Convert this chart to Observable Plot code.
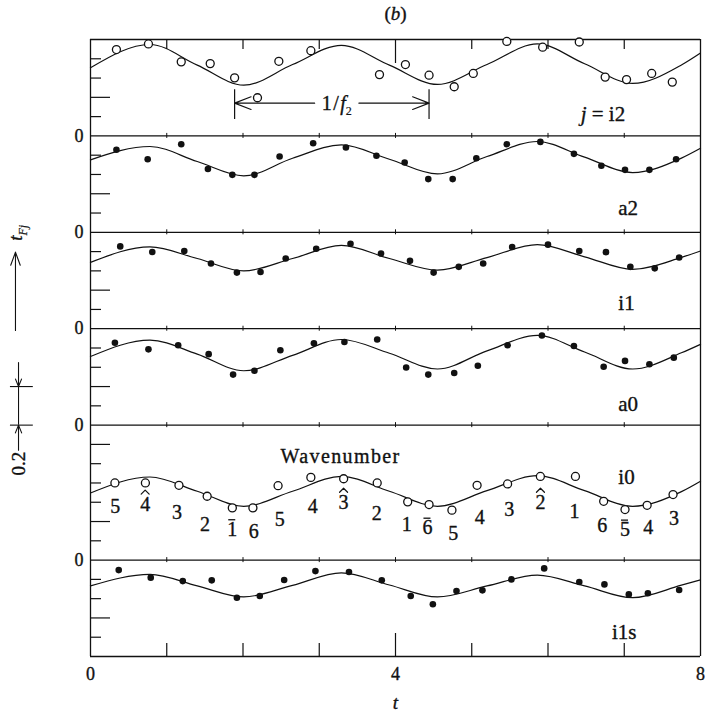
<!DOCTYPE html>
<html><head><meta charset="utf-8">
<script src="https://cdn.jsdelivr.net/npm/d3@7"></script>
<script src="https://cdn.jsdelivr.net/npm/@observablehq/plot@0.6"></script>
<style>
html,body{margin:0;padding:0;background:#fff}
#chart svg{display:block}
</style>
</head><body><div id="chart"></div>
<script>
// ---------------- data ----------------
const panelNames = ["i2", "a2", "i1", "a0", "i0", "i1s"];
const panelSpans = [0.5, 0.5, 0.5, 0.5, 0.7, 0.5];

// fitted curve samples (t, value within panel)
const curveT   = [0, 0.78, 1.40, 2.01, 2.65, 3.29, 3.92, 4.55, 5.20, 5.86, 6.48, 7.11, 7.75, 8];
const curveI2  = [0.353, 0.474, 0.367, 0.263, 0.370, 0.470, 0.367, 0.267, 0.370, 0.477, 0.374, 0.272, 0.368, 0.430];
const curveA2  = [0.376, 0.445, 0.367, 0.293, 0.384, 0.453, 0.379, 0.303, 0.393, 0.471, 0.390, 0.310, 0.385, 0.436];
const curveI1  = [0.344, 0.424, 0.364, 0.300, 0.364, 0.432, 0.364, 0.304, 0.369, 0.436, 0.373, 0.308, 0.370, 0.403];
const curveA0  = [0.356, 0.441, 0.368, 0.282, 0.362, 0.444, 0.373, 0.291, 0.385, 0.465, 0.379, 0.291, 0.375, 0.419];
const curveI0  = [0.348, 0.431, 0.357, 0.279, 0.357, 0.434, 0.357, 0.279, 0.360, 0.438, 0.360, 0.279, 0.355, 0.409];
const curveI1s = [0.366, 0.426, 0.366, 0.309, 0.369, 0.434, 0.371, 0.309, 0.366, 0.422, 0.366, 0.305, 0.370, 0.397];

// measured points
const ptsTI2  = [0.34, 0.76, 1.19, 1.57, 1.89, 2.19, 2.47, 2.89, 3.79, 4.13, 4.44, 4.77, 5.02, 5.46, 5.93, 6.41, 6.75, 7.03, 7.36, 7.63];
const ptsVI2  = [0.448, 0.477, 0.384, 0.375, 0.301, 0.198, 0.387, 0.442, 0.318, 0.370, 0.315, 0.255, 0.324, 0.490, 0.460, 0.487, 0.305, 0.292, 0.324, 0.279];
const ptsTA2  = [0.34, 0.75, 1.19, 1.54, 1.86, 2.15, 2.48, 2.92, 3.35, 3.75, 4.12, 4.43, 4.75, 5.06, 5.46, 5.90, 6.34, 6.70, 7.01, 7.33, 7.68];
const ptsVA2  = [0.428, 0.379, 0.457, 0.328, 0.298, 0.298, 0.393, 0.462, 0.440, 0.397, 0.362, 0.276, 0.276, 0.384, 0.457, 0.469, 0.407, 0.345, 0.324, 0.324, 0.379];
const ptsTI1  = [0.39, 0.81, 1.23, 1.58, 1.92, 2.23, 2.56, 2.96, 3.41, 3.81, 4.19, 4.50, 4.83, 5.15, 5.53, 6.00, 6.41, 6.76, 7.08, 7.40, 7.72];
const ptsVI1  = [0.427, 0.398, 0.403, 0.338, 0.291, 0.294, 0.364, 0.415, 0.441, 0.390, 0.352, 0.291, 0.321, 0.338, 0.424, 0.436, 0.403, 0.397, 0.321, 0.313, 0.369];
const ptsTA0  = [0.32, 0.76, 1.15, 1.55, 1.87, 2.15, 2.49, 2.93, 3.33, 3.76, 4.14, 4.43, 4.77, 5.08, 5.47, 5.92, 6.34, 6.73, 7.01, 7.33, 7.65];
const ptsVA0  = [0.427, 0.393, 0.414, 0.368, 0.262, 0.282, 0.388, 0.424, 0.431, 0.444, 0.299, 0.262, 0.270, 0.308, 0.414, 0.465, 0.410, 0.303, 0.333, 0.316, 0.350];
const ptsTI0  = [0.32, 0.72, 1.16, 1.53, 1.86, 2.13, 2.46, 2.89, 3.32, 3.76, 4.16, 4.44, 4.74, 5.07, 5.47, 5.90, 6.36, 6.73, 7.01, 7.30, 7.64];
const ptsVI0  = [0.400, 0.400, 0.388, 0.331, 0.271, 0.271, 0.386, 0.429, 0.422, 0.400, 0.302, 0.288, 0.259, 0.388, 0.395, 0.434, 0.434, 0.305, 0.262, 0.284, 0.340];
const ptsTI1s = [0.37, 0.79, 1.21, 1.59, 1.92, 2.22, 2.54, 2.95, 3.39, 3.82, 4.20, 4.49, 4.80, 5.14, 5.52, 5.95, 6.41, 6.74, 7.06, 7.31, 7.72];
const ptsVI1s = [0.448, 0.409, 0.391, 0.395, 0.305, 0.314, 0.397, 0.443, 0.438, 0.395, 0.314, 0.271, 0.340, 0.343, 0.400, 0.457, 0.386, 0.374, 0.322, 0.328, 0.345];
const openPanels = ["i2", "i0"];

// wavenumber annotations in panel i0 (digit, accent above it)
const wnText   = ["5", "4", "3", "2", "1", "6", "5", "4", "3", "2", "1", "6", "5", "4", "3", "2", "1", "6", "5", "4", "3"];
const wnAccent = ["", "hat", "", "", "bar", "", "", "", "hat", "", "", "bar", "", "", "", "hat", "", "", "bar", "", ""];
const wnT      = [0.325, 0.717, 1.136, 1.503, 1.859, 2.141, 2.482, 2.916, 3.319, 3.754, 4.147, 4.419, 4.759, 5.105, 5.492, 5.901, 6.346, 6.712, 7.010, 7.314, 7.654];
const wnV      = [0.275, 0.290, 0.245, 0.183, 0.160, 0.150, 0.210, 0.278, 0.300, 0.240, 0.183, 0.168, 0.140, 0.220, 0.262, 0.300, 0.250, 0.180, 0.158, 0.170, 0.215];
const wnTitle = "Wavenumber", wnTitleT = 3.28, wnTitleV = 0.538;

// panel names
const panelTitles  = ["j = i2", "a2", "i1", "a0", "i0", "i1s"];
const panelTitleT  = [6.72, 7.05, 7.03, 7.05, 7.03, 7.00];
const panelTitleV  = [0.11, 0.125, 0.13, 0.11, 0.43, 0.124];

// axes
const xMinorTicks = [1, 2, 3, 4, 5, 6, 7];
const xLabelT = [0, 4, 8];
const xLabelText = ["0", "4", "8"];
const figureTag = "(b)";

// 1/f2 period marker in panel i2
const periodLabel = "1/f2", periodLabelT = 3.23;
const periodBarT = [1.89, 4.44];
const periodBarV = [0.085, 0.24];
const periodArrowV = 0.17;
const periodArrowFromT = [2.94, 3.52];

// left-margin annotations (t-units, values relative to panel a0 zero)
const yLabel = "tFj";
const leftArrowT = -0.984, leftArrowV = [0.491, 0.897];
const scaleBarT = -0.944, scaleBarTickT = [-1.05, -0.75], scaleBarValue = 0.2;

// ---------------- layout ----------------
const W = 706, H = 712, mL = 90, mR = 6, mT = 39, mB = 56;
const offsets = {}; let acc = 0;
for (let i = panelNames.length - 1; i >= 0; i--) { offsets[panelNames[i]] = acc; acc += panelSpans[i]; }
const yTop = acc;
const pxPerT = (W - mL - mR) / 8;
const pxPerV = (H - mT - mB) / yTop;
const px = p => p / pxPerT, pv = p => p / pxPerV;
const curves = {i2: curveI2, a2: curveA2, i1: curveI1, a0: curveA0, i0: curveI0, i1s: curveI1s};
const ptsT = {i2: ptsTI2, a2: ptsTA2, i1: ptsTI1, a0: ptsTA0, i0: ptsTI0, i1s: ptsTI1s};
const ptsV = {i2: ptsVI2, a2: ptsVA2, i1: ptsVI1, a0: ptsVA0, i0: ptsVI0, i1s: ptsVI1s};

const curveData = panelNames.flatMap(p => curveT.map((t, i) => ({panel: p, t, y: offsets[p] + curves[p][i]})));
const pointData = panelNames.flatMap(p => ptsT[p].map((t, i) => ({panel: p, t, y: offsets[p] + ptsV[p][i], open: openPanels.includes(p)})));
const wnData = wnText.map((s, i) => ({s, t: wnT[i], y: offsets.i0 + wnV[i], accent: wnAccent[i], id: i}));
const hatData = wnData.filter(d => d.accent === "hat").flatMap(d => [
  {id: d.id, t: d.t - px(4), y: d.y + pv(10)}, {id: d.id, t: d.t, y: d.y + pv(14)}, {id: d.id, t: d.t + px(4), y: d.y + pv(10)}]);
const barData = wnData.filter(d => d.accent === "bar");
const titleData = panelNames.map((p, i) => ({s: panelTitles[i], t: panelTitleT[i], y: offsets[p] + panelTitleV[i]}));
const xLabelData = xLabelT.map((t, i) => ({t, s: xLabelText[i]}));

const boundaries = panelNames.map(p => offsets[p]);
const zeroLabels = boundaries.filter(b => b > 0);
const yTicks = panelNames.flatMap((p, i) =>
  d3.range(1, Math.round(panelSpans[i] * 10)).map(k => ({y: offsets[p] + k / 10, len: k % 4 === 2 ? 20 : 11})));
const bottomTicks = xMinorTicks.map(t => ({t, len: t === 4 ? 23 : 13}));
const topTicks = xMinorTicks.map(t => ({t, len: t === 4 ? 24 : 10}));
const innerTicks = boundaries.filter(b => b > 0).flatMap(b => xMinorTicks.map(t => ({t, y: b})));

const serif = "Liberation Serif, Times New Roman, serif";
const ink = "#111";
const a0 = offsets.a0;
const txt = (extra) => ({fill: ink, stroke: ink, strokeWidth: 0.35, ...extra});

const chart = Plot.plot({
  width: W, height: H, marginLeft: mL, marginRight: mR, marginTop: mT, marginBottom: mB,
  x: {domain: [0, 8], axis: null},
  y: {domain: [0, yTop], axis: null},
  style: {fontFamily: serif, background: "white", color: ink, overflow: "visible"},
  marks: [
    // frame and panel separators
    Plot.ruleY([...boundaries, yTop], {stroke: ink, strokeWidth: 1.3}),
    Plot.ruleX([0, 8], {stroke: ink, strokeWidth: 1.3}),
    // y ticks
    Plot.ruleY(yTicks, {y: "y", x1: 0, x2: d => px(d.len), stroke: ink, strokeWidth: 1.2}),
    // x ticks
    Plot.ruleX(bottomTicks, {x: "t", y1: 0, y2: d => pv(d.len), stroke: ink, strokeWidth: 1.2}),
    Plot.ruleX(topTicks, {x: "t", y1: yTop, y2: d => yTop - pv(d.len), stroke: ink, strokeWidth: 1.2}),
    Plot.ruleX(innerTicks, {x: "t", y1: d => d.y - pv(2.5), y2: d => d.y + pv(2.5), stroke: ink, strokeWidth: 1}),
    // curves
    Plot.line(curveData, {x: "t", y: "y", z: "panel", curve: "monotone-x", stroke: ink, strokeWidth: 1.2}),
    // points
    Plot.dot(pointData.filter(d => d.open), {x: "t", y: "y", r: 4, fill: "white", stroke: ink, strokeWidth: 1.3}),
    Plot.dot(pointData.filter(d => !d.open), {x: "t", y: "y", r: 3.3, fill: ink, stroke: "none"}),
    // wavenumbers
    Plot.text(wnData, {x: "t", y: "y", text: "s", fontSize: 20, ...txt()}),
    Plot.line(hatData, {x: "t", y: "y", z: "id", stroke: ink, strokeWidth: 1.2}),
    Plot.ruleY(barData, {y: d => d.y + pv(9.5), x1: d => d.t - px(3.5), x2: d => d.t + px(3.5), stroke: ink, strokeWidth: 1.3}),
    Plot.text([wnTitle], {x: wnTitleT, y: offsets.i0 + wnTitleV, text: d => d, fontSize: 20, ...txt()}),
    // panel titles
    Plot.text(titleData, {x: "t", y: "y", text: "s", fontSize: 21, ...txt()}),
    // 1/f2 period marker
    Plot.ruleX(periodBarT, {x: d => d, y1: offsets.i2 + periodBarV[0], y2: offsets.i2 + periodBarV[1], stroke: ink, strokeWidth: 1.2}),
    Plot.arrow([0, 1], {x1: d => periodArrowFromT[d], x2: d => periodBarT[d], y1: offsets.i2 + periodArrowV, y2: offsets.i2 + periodArrowV,
      stroke: ink, strokeWidth: 1.1, headLength: 24, headAngle: 42}),
    Plot.text([periodLabel], {x: periodLabelT, y: offsets.i2 + periodArrowV, text: d => d, fontSize: 20, ...txt()}),
    // zero labels
    Plot.text(zeroLabels, {x: 0, y: d => d, text: () => "0", textAnchor: "end", dx: -7, fontSize: 18, ...txt()}),
    // x-axis labels
    Plot.text(xLabelData, {x: "t", text: "s", frameAnchor: "bottom", lineAnchor: "middle", dy: 18, fontSize: 18, ...txt()}),
    Plot.text(["t"], {x: 4, text: d => d, frameAnchor: "bottom", lineAnchor: "middle", dy: 46, fontSize: 19, fontStyle: "italic", ...txt()}),
    // title (b)
    Plot.text([figureTag], {x: 4, text: d => d, frameAnchor: "top", lineAnchor: "middle", dy: -26, fontSize: 19, ...txt()}),
    // left annotations: t_Fj arrow
    Plot.arrow([0], {x1: leftArrowT, x2: leftArrowT, y1: a0 + leftArrowV[0], y2: a0 + leftArrowV[1], stroke: ink, strokeWidth: 1.1, headLength: 19, headAngle: 40}),
    Plot.text([yLabel], {x: leftArrowT, y: a0 + leftArrowV[1] + 0.1, text: d => d, rotate: -90, fontSize: 19, ...txt()}),
    // 0.2 scale bar
    Plot.ruleY([a0, a0 + scaleBarValue], {y: d => d, x1: scaleBarTickT[0], x2: scaleBarTickT[1], stroke: ink, strokeWidth: 1.1}),
    Plot.ruleX([scaleBarT], {x: d => d, y1: a0, y2: a0 + scaleBarValue, stroke: ink, strokeWidth: 1.1}),
    Plot.arrow([0], {x1: scaleBarT, x2: scaleBarT, y1: a0 + scaleBarValue + 0.125, y2: a0 + scaleBarValue, stroke: ink, strokeWidth: 1.1, headLength: 16, headAngle: 44}),
    Plot.arrow([0], {x1: scaleBarT, x2: scaleBarT, y1: a0 - 0.13, y2: a0, stroke: ink, strokeWidth: 1.1, headLength: 16, headAngle: 44}),
    Plot.text(["0.2"], {x: scaleBarT, y: a0 - 0.2, text: d => d, rotate: -90, fontSize: 19, ...txt()})
  ]
});
document.getElementById("chart").appendChild(chart);

// mixed styling inside single text elements (italic letters, subscripts)
const svg = d3.select(chart);
const byText = s => svg.selectAll("text").filter(function () { return this.textContent === s; });
function rebuild(sel, parts) {
  sel.each(function () {
    const t = d3.select(this); t.text(null);
    parts.forEach(p => {
      const ts = t.append("tspan").text(p.s);
      if (p.italic) ts.attr("font-style", "italic");
      if (p.size) ts.attr("font-size", p.size).attr("stroke-width", 0.2);
      if (p.dy) ts.attr("dy", p.dy);
      if (p.ls) ts.attr("letter-spacing", p.ls);
    });
  });
}
byText(wnTitle).attr("letter-spacing", "1.4px");
rebuild(byText(figureTag), [{s: "("}, {s: "b", italic: true}, {s: ")"}]);
rebuild(byText(panelTitles[0]), [{s: "j", italic: true}, {s: " = i2"}]);
rebuild(byText(periodLabel), [{s: "1/", ls: "1.5px"}, {s: "f", italic: true}, {s: "2", size: 12, dy: 5}]);
rebuild(byText(yLabel), [{s: "t", italic: true}, {s: "Fj", italic: true, size: 12, dy: 5}]);
</script>
</body></html>
